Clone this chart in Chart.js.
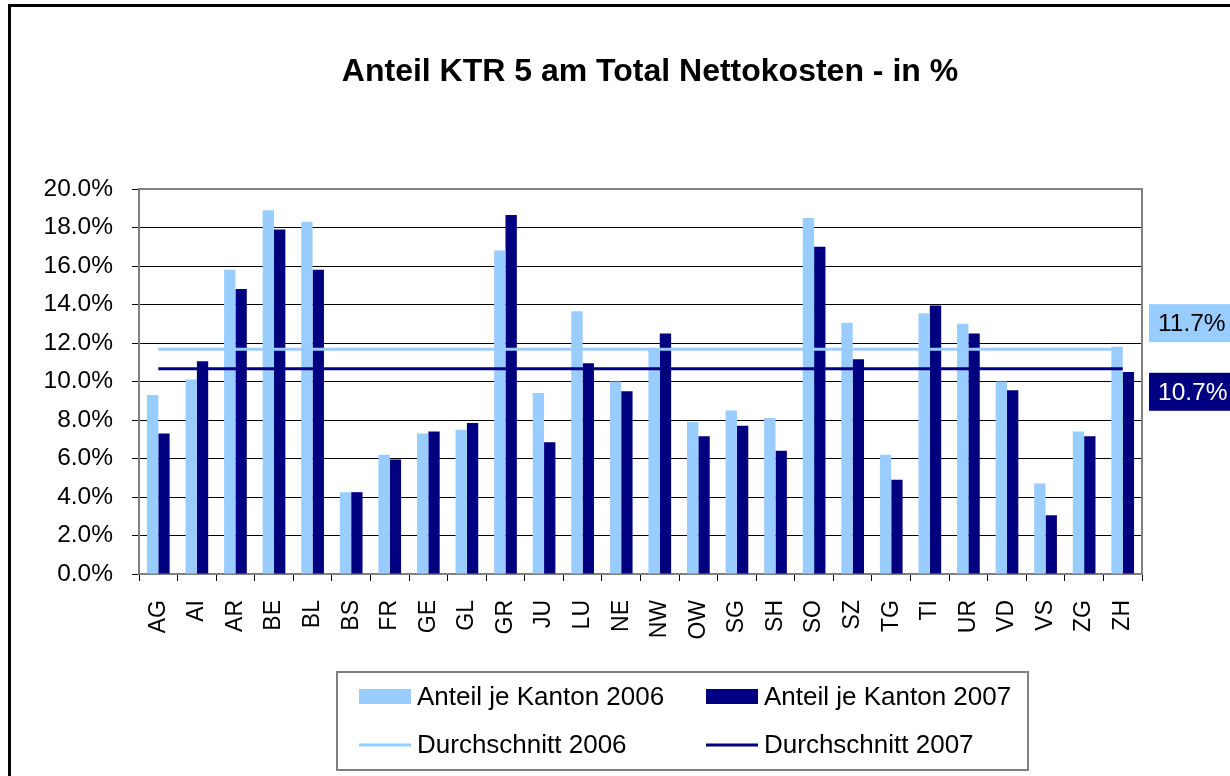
<!DOCTYPE html>
<html>
<head>
<meta charset="utf-8">
<script src="https://cdn.jsdelivr.net/npm/chart.js@4/dist/chart.umd.min.js"></script>
<style>
  body { margin: 0; background: #fff; }
  #wrap { position: relative; width: 1230px; height: 776px; overflow: hidden; }
  #frame { position: absolute; left: 8px; top: 4px; width: 1260px; height: 800px; border: 3px solid #000; pointer-events: none; }
</style>
</head>
<body>
<div id="wrap">
  <canvas id="bar-chart" width="1230" height="776"></canvas>
  <div id="frame"></div>
</div>
<script>
const FONT = "'Liberation Sans', Arial, sans-serif";

var cantons = ["AG", "AI", "AR", "BE", "BL", "BS", "FR", "GE", "GL", "GR", "JU", "LU", "NE",
  "NW", "OW", "SG", "SH", "SO", "SZ", "TG", "TI", "UR", "VD", "VS", "ZG", "ZH"];
var share2006 = [9.3, 10.1, 15.8, 18.9, 18.3, 4.25, 6.2, 7.3, 7.5, 16.8, 9.4, 13.65, 10.0,
  11.65, 7.9, 8.5, 8.1, 18.5, 13.05, 6.2, 13.55, 13.0, 10.0, 4.7, 7.4, 11.8];
var share2007 = [7.3, 11.05, 14.8, 17.9, 15.8, 4.25, 5.95, 7.4, 7.85, 18.65, 6.85, 10.95, 9.5,
  12.5, 7.15, 7.7, 6.4, 17.0, 11.15, 4.9, 13.95, 12.5, 9.55, 3.05, 7.15, 10.5];
var avg2006 = 11.68;
var avg2007 = 10.66;
var yTicks = [0, 2, 4, 6, 8, 10, 12, 14, 16, 18, 20];

var LIGHT = "#99CCFF";
var NAVY = "#000080";

// title, legend box, plot border and the two average labels
var extras = {
  id: "extras",
  beforeDatasetsDraw(chart) {
    var a = chart.chartArea;
    var ctx = chart.ctx;
    ctx.save();
    ctx.strokeStyle = "#808080";
    ctx.lineWidth = 2;
    ctx.beginPath();
    ctx.moveTo(a.left, a.top);
    ctx.lineTo(a.right, a.top);
    ctx.lineTo(a.right, a.bottom);
    ctx.stroke();
    ctx.restore();
  },
  afterDraw(chart) {
    var ctx = chart.ctx;
    var y = chart.scales.y;
    ctx.save();

    ctx.fillStyle = "#000";
    ctx.font = "bold 32px " + FONT;
    ctx.textAlign = "center";
    ctx.textBaseline = "middle";
    ctx.fillText("Anteil KTR 5 am Total Nettokosten - in %", 650, 72);

    // average labels on the right
    ctx.font = "24.5px " + FONT;
    ctx.textAlign = "left";
    var y1 = y.getPixelForValue(avg2006) - 26;
    ctx.fillStyle = LIGHT;
    ctx.fillRect(1149, y1 - 19, 90, 38);
    ctx.fillStyle = "#000";
    ctx.fillText(avg2006.toFixed(1) + "%", 1158, y1 + 1);
    var y2 = y.getPixelForValue(avg2007) + 23;
    ctx.fillStyle = NAVY;
    ctx.fillRect(1149, y2 - 19, 90, 38);
    ctx.fillStyle = "#fff";
    ctx.fillText(avg2007.toFixed(1) + "%", 1158, y2 + 1);

    // legend
    ctx.strokeStyle = "#808080";
    ctx.lineWidth = 2;
    ctx.strokeRect(337, 672, 691, 98);
    var ds = chart.data.datasets;
    var cols = [359, 706];
    var rows = [697, 745];
    var items = [ds[2], ds[3], ds[0], ds[1]];
    ctx.font = "26px " + FONT;
    items.forEach(function (d, i) {
      var cx = cols[i % 2];
      var cy = rows[Math.floor(i / 2)];
      if (d.type === "line") {
        ctx.strokeStyle = d.borderColor;
        ctx.lineWidth = 3;
        ctx.beginPath();
        ctx.moveTo(cx, cy);
        ctx.lineTo(cx + 52, cy);
        ctx.stroke();
      } else {
        ctx.fillStyle = d.backgroundColor;
        ctx.fillRect(cx, cy - 8, 52, 15);
      }
      ctx.fillStyle = "#000";
      ctx.fillText(d.label, cx + 58, cy + 1);
    });
    ctx.restore();
  }
};

new Chart(document.getElementById("bar-chart"), {
  type: "bar",
  data: {
    labels: cantons,
    datasets: [
      {
        type: "line",
        label: "Durchschnitt 2006",
        data: [{ x: cantons[0], y: avg2006 }, { x: cantons[cantons.length - 1], y: avg2006 }],
        borderColor: LIGHT,
        borderWidth: 3,
        pointRadius: 0,
        fill: false,
        order: 0
      },
      {
        type: "line",
        label: "Durchschnitt 2007",
        data: [{ x: cantons[0], y: avg2007 }, { x: cantons[cantons.length - 1], y: avg2007 }],
        borderColor: NAVY,
        borderWidth: 3,
        pointRadius: 0,
        fill: false,
        order: 0
      },
      {
        label: "Anteil je Kanton 2006",
        data: share2006,
        backgroundColor: LIGHT,
        categoryPercentage: 1 / 1.7,
        barPercentage: 1,
        order: 1
      },
      {
        label: "Anteil je Kanton 2007",
        data: share2007,
        backgroundColor: NAVY,
        categoryPercentage: 1 / 1.7,
        barPercentage: 1,
        order: 1
      }
    ]
  },
  options: {
    responsive: false,
    animation: false,
    devicePixelRatio: 1,
    layout: { padding: { top: 189, right: 88, left: 0, bottom: 0 } },
    plugins: {
      legend: { display: false },
      title: { display: false },
      tooltip: { enabled: false }
    },
    scales: {
      x: {
        afterFit: function (s) { s.height = 202; },
        grid: { drawOnChartArea: false, drawTicks: true, tickLength: 7, tickColor: "#000", offset: true },
        border: { color: "#808080", width: 2 },
        ticks: {
          color: "#000",
          font: { family: FONT, size: 23 },
          minRotation: 90,
          maxRotation: 90,
          autoSkip: false,
          padding: 19
        }
      },
      y: {
        min: 0,
        max: 20,
        afterFit: function (s) { s.width = 139; },
        afterBuildTicks: function (s) { s.ticks = yTicks.map(function (v) { return { value: v }; }); },
        grid: { color: "#000", lineWidth: 1, drawTicks: true, tickLength: 7, tickColor: "#000" },
        border: { color: "#808080", width: 2 },
        ticks: {
          color: "#000",
          font: { family: FONT, size: 24.5 },
          padding: 19,
          callback: function (v) { return v.toFixed(1) + "%"; }
        }
      }
    }
  },
  plugins: [extras]
});
</script>
</body>
</html>
